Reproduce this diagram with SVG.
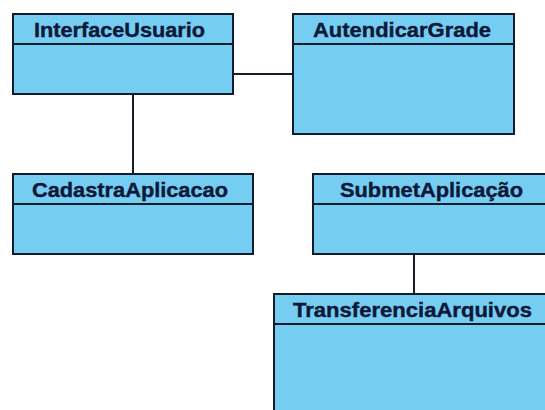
<svg xmlns="http://www.w3.org/2000/svg" width="545" height="410" viewBox="0 0 545 410">
  <style>
    .box { fill: #76cdf2; stroke: #141c2c; stroke-width: 2; }
    .sep { stroke: #141c2c; stroke-width: 2; }
    .name { font-family: "Liberation Sans", Arial, sans-serif; font-weight: bold; font-size: 21px; fill: #0c1838; stroke: #0c1838; stroke-width: 0.4; }
    .link { stroke: #141c2c; stroke-width: 2; fill: none; }
  </style>
  <rect width="545" height="410" fill="#ffffff"/>

  <g id="connectors">
    <line class="link" x1="233" y1="74" x2="293" y2="74"/>
    <line class="link" x1="133" y1="94" x2="133" y2="174"/>
    <line class="link" x1="414" y1="254" x2="414" y2="294"/>
  </g>

  <g id="InterfaceUsuario">
    <rect class="box" x="13" y="14" width="220" height="80"/>
    <line class="sep" x1="13" y1="44" x2="233" y2="44"/>
    <text class="name" x="34" y="36.5" textLength="171" lengthAdjust="spacingAndGlyphs">InterfaceUsuario</text>
  </g>

  <g id="AutendicarGrade">
    <rect class="box" x="293" y="14" width="221" height="120"/>
    <line class="sep" x1="293" y1="44" x2="514" y2="44"/>
    <text class="name" x="313" y="36.5" textLength="178" lengthAdjust="spacingAndGlyphs">AutendicarGrade</text>
  </g>

  <g id="CadastraAplicacao">
    <rect class="box" x="13" y="174" width="240" height="80"/>
    <line class="sep" x1="13" y1="204" x2="253" y2="204"/>
    <text class="name" x="32" y="196.5" textLength="196" lengthAdjust="spacingAndGlyphs">CadastraAplicacao</text>
  </g>

  <g id="SubmetAplicacao">
    <rect class="box" x="313" y="174" width="240" height="80"/>
    <line class="sep" x1="313" y1="204" x2="553" y2="204"/>
    <text class="name" x="340" y="196.5" textLength="183" lengthAdjust="spacingAndGlyphs">SubmetAplicação</text>
  </g>

  <g id="TransferenciaArquivos">
    <rect class="box" x="274" y="294" width="280" height="130"/>
    <line class="sep" x1="274" y1="324" x2="554" y2="324"/>
    <text class="name" x="293" y="316.5" textLength="239" lengthAdjust="spacingAndGlyphs">TransferenciaArquivos</text>
  </g>
</svg>
